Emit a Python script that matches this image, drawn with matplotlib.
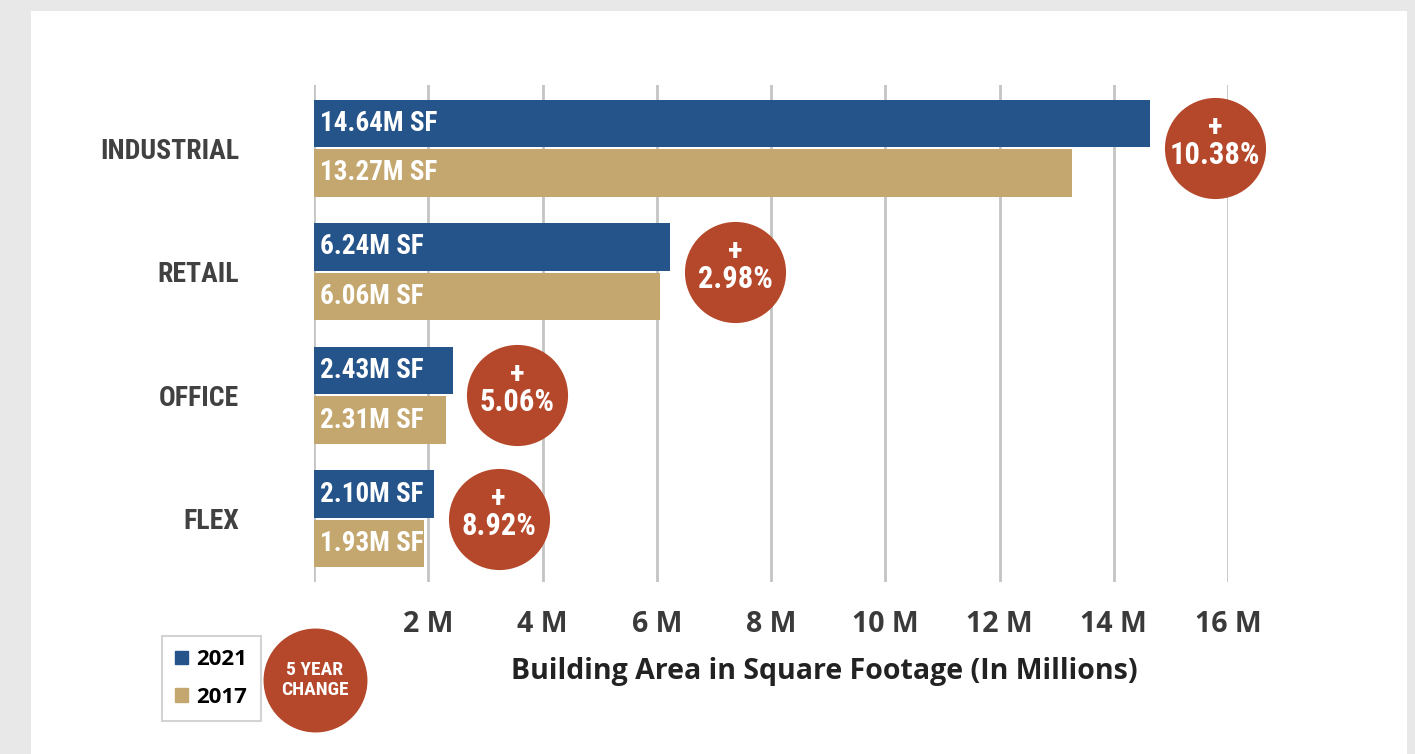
import numpy as np
import matplotlib.pyplot as plt
from matplotlib.patches import Rectangle, Patch

# data
categories = ['INDUSTRIAL', 'RETAIL', 'OFFICE', 'FLEX']
sf_2021 = [14.64, 6.24, 2.43, 2.10]
sf_2017 = [13.27, 6.06, 2.31, 1.93]
change_pct = [10.38, 2.98, 5.06, 8.92]
xticks = [2, 4, 6, 8, 10, 12, 14, 16]
xtick_labels = ['2 M', '4 M', '6 M', '8 M', '10 M', '12 M', '14 M', '16 M']
years = ['2021', '2017']

BLUE = '#24548a'
TAN = '#c4a76f'
RUST = '#b5472a'
GRID = '#c4c4c4'
COND = ['Roboto Condensed', 'Roboto', 'DejaVu Sans']
SANS = ['Open Sans', 'DejaVu Sans']

W, H = 1415, 754
fig = plt.figure(figsize=(W / 100, H / 100), dpi=100)
fig.patch.set_facecolor('#e8e8e8')
fig.add_artist(Rectangle((31 / W, 0), (1407 - 31) / W, 1 - 11 / H,
                         transform=fig.transFigure, facecolor='white',
                         edgecolor='none', zorder=0))

ax = fig.add_axes([314 / W, 1 - 582 / H, (1228 - 314) / W, (582 - 85) / H])
ax.set_facecolor('none')

y = np.arange(len(categories))
h = 0.385
bars_new = ax.barh(y - 0.2, sf_2021, height=h, color=BLUE, zorder=3)
bars_old = ax.barh(y + 0.2, sf_2017, height=h, color=TAN, zorder=3)

for bars, vals in [(bars_new, sf_2021), (bars_old, sf_2017)]:
    for b, v in zip(bars, vals):
        ax.text(0.1, b.get_y() + b.get_height() / 2, f'{v:.2f}M SF',
                color='white', fontsize=19.5, fontweight='bold', family=COND,
                fontstretch='condensed', va='center', ha='left', zorder=4)

# percent change bubbles
bx = np.array(sf_2021) + 1.13
ax.scatter(bx, y, s=5300, color=RUST, zorder=5, clip_on=False, linewidths=0)
for xi, yi, p in zip(bx, y, change_pct):
    ax.annotate('+', (xi, yi), xytext=(0, 15), textcoords='offset points',
                color='white', fontsize=22, fontweight='bold', family=COND,
                ha='center', va='center', zorder=6)
    ax.annotate(f'{p:.2f}%', (xi, yi), xytext=(0, -5), textcoords='offset points',
                color='white', fontsize=22, fontweight='bold', family=COND,
                fontstretch='condensed', ha='center', va='center', zorder=6)

ax.set_xlim(0, 16)
ax.set_ylim(len(categories) - 0.49, -0.51)
ax.set_xticks([0] + xticks)
ax.set_xticklabels([''] + xtick_labels)
ax.grid(axis='x', color=GRID, linewidth=2, zorder=1)
ax.tick_params(axis='x', length=0, pad=20, labelsize=20.5, labelcolor='#3a3a3a')
for t in ax.get_xticklabels():
    t.set_fontweight('bold')
    t.set_family(SANS)
ax.set_yticks(y)
ax.set_yticklabels(categories)
ax.tick_params(axis='y', length=0, pad=54, labelsize=20, labelcolor='#414141')
for t in ax.get_yticklabels():
    t.set_fontweight('bold')
    t.set_family(COND)
    t.set_fontstretch('condensed')
for s in ax.spines.values():
    s.set_visible(False)

ax.set_xlabel('Building Area in Square Footage (In Millions)', fontsize=20.5,
              fontweight='bold', family=SANS, color='#222222')
ax.xaxis.set_label_coords((824 - 314) / 914, -0.15)

# legend
handles = [Patch(color=BLUE, label=years[0]), Patch(color=TAN, label=years[1])]
leg = fig.legend(handles=handles, loc='upper left',
                 bbox_to_anchor=(162 / W, 1 - 636 / H), frameon=True,
                 fancybox=False, handlelength=0.55, handleheight=0.55,
                 handletextpad=0.4, labelspacing=0.75, borderpad=0.6,
                 borderaxespad=0,
                 prop={'family': SANS, 'weight': 'bold', 'size': 16})
leg.get_frame().set_edgecolor('#c8c8c8')
leg.get_frame().set_linewidth(1.5)

# "5 year change" badge
ax.scatter([(315 - 314) / 914], [(582 - 680) / 497], transform=ax.transAxes,
           s=5600, color=RUST, zorder=5, clip_on=False, linewidths=0)
ax.text((315 - 314) / 914, (582 - 680) / 497, '5 YEAR\nCHANGE',
        transform=ax.transAxes, color='white', fontsize=14, fontweight='bold',
        family=COND, fontstretch='condensed', ha='center', va='center',
        linespacing=1.15, zorder=6)

fig.savefig('out.png', dpi=100, facecolor=fig.get_facecolor())
